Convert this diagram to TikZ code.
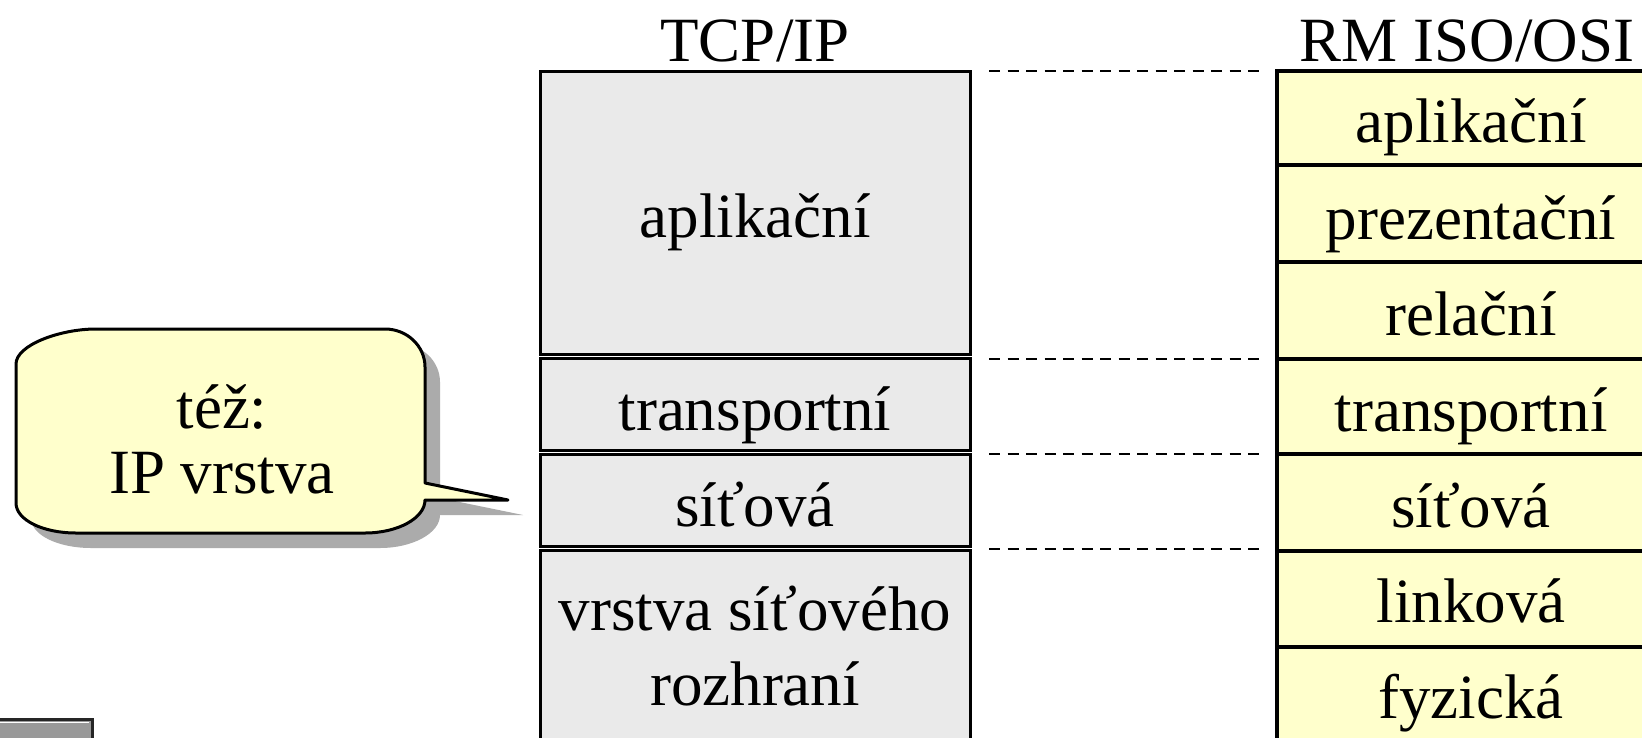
\documentclass[tikz,border=0pt]{standalone}
\usepackage{fontspec}
\setmainfont{Liberation Serif}
\definecolor{tcpfill}{HTML}{EAEAEA}
\definecolor{osifill}{HTML}{FFFFCC}
\definecolor{shadowgray}{HTML}{ABABAB}
\definecolor{boxgray}{HTML}{999999}
\begin{document}
\begin{tikzpicture}[x=1pt,y=-1pt,
  font=\fontsize{63}{70}\selectfont,
  tcpbox/.style={draw=black, line width=3pt, fill=tcpfill},
  osibox/.style={draw=black, line width=4pt, fill=osifill},
  lbl/.style={anchor=base, inner sep=0pt},
  dashline/.style={dashed, dash pattern=on 11pt off 7.5pt, line width=2.6pt},
  callout/.style={draw=black, line width=3pt, fill=osifill, line join=round}]
\useasboundingbox (0,0) rectangle (1642,737);
\clip (0,0) rectangle (1642,737);
\fill[white] (0,0) rectangle (1642,737);

% headings
\node[lbl] (htcp) at (755,61) {TCP/IP};
\node[lbl] (hosi) at (1467,61) {RM ISO/OSI};

% TCP/IP column
\draw[tcpbox] (540,71) rectangle (970,354);
\draw[tcpbox] (540,358) rectangle (970,450);
\draw[tcpbox] (540,454) rectangle (970,546);
\draw[tcpbox] (540,550) rectangle (970,800);
\node[lbl] (t1) at (755,237) {aplikační};
\node[lbl] (t2) at (755,430) {transportní};
\node[lbl] (t3) at (755,526) {síťová};
\node[lbl] (t4) at (755,630) {vrstva síťového};
\node[lbl] (t5) at (755,705) {rozhraní};

% OSI column
\foreach \ya/\yb in {71/165,165/262,262/359,359/454,454/551,551/647,647/745}
  \draw[osibox] (1277,\ya) rectangle (1670,\yb);
\node[lbl] (o1) at (1471,142) {aplikační};
\node[lbl] (o2) at (1471,239) {prezentační};
\node[lbl] (o3) at (1471,335) {relační};
\node[lbl] (o4) at (1471,431) {transportní};
\node[lbl] (o5) at (1471,527) {síťová};
\node[lbl] (o6) at (1471,622) {linková};
\node[lbl] (o7) at (1471,718) {fyzická};

% dashed correspondences
\coordinate (da1) at (989,71);  \coordinate (db1) at (1264,71);
\coordinate (da2) at (989,359); \coordinate (db2) at (1264,359);
\coordinate (da3) at (989,454); \coordinate (db3) at (1264,454);
\coordinate (da4) at (989,549); \coordinate (db4) at (1264,549);
\draw[dashline] (da1) -- (db1);
\draw[dashline] (da2) -- (db2);
\draw[dashline] (da3) -- (db3);
\draw[dashline] (da4) -- (db4);

% callout shadow
\fill[shadowgray, shift={(15,15)}]
  (96,329) -- (385,329) .. controls (407,329) and (425,346) .. (425,367)
  -- (425,483) -- (508,500) -- (425,500)
  .. controls (425,518) and (398,533) .. (365,533)
  -- (76,533) .. controls (43,533) and (16,520) .. (16,503)
  -- (16,364) .. controls (16,345) and (60,329) .. (96,329) -- cycle;
% callout
\draw[callout]
  (96,329) -- (385,329) .. controls (407,329) and (425,346) .. (425,367)
  -- (425,483) -- (508,500) -- (425,500)
  .. controls (425,518) and (398,533) .. (365,533)
  -- (76,533) .. controls (43,533) and (16,520) .. (16,503)
  -- (16,364) .. controls (16,345) and (60,329) .. (96,329) -- cycle;
\node[lbl] (c1) at (222,428) {též:};
\node[lbl] (c2) at (222,493) {IP vrstva};

% bottom-left grey box
\draw[fill=boxgray, draw=black!85, line width=3pt] (-10,719) rectangle (92,760);
\draw[white, line width=1pt] (0,722) -- (89,722);
\end{tikzpicture}
\end{document}
